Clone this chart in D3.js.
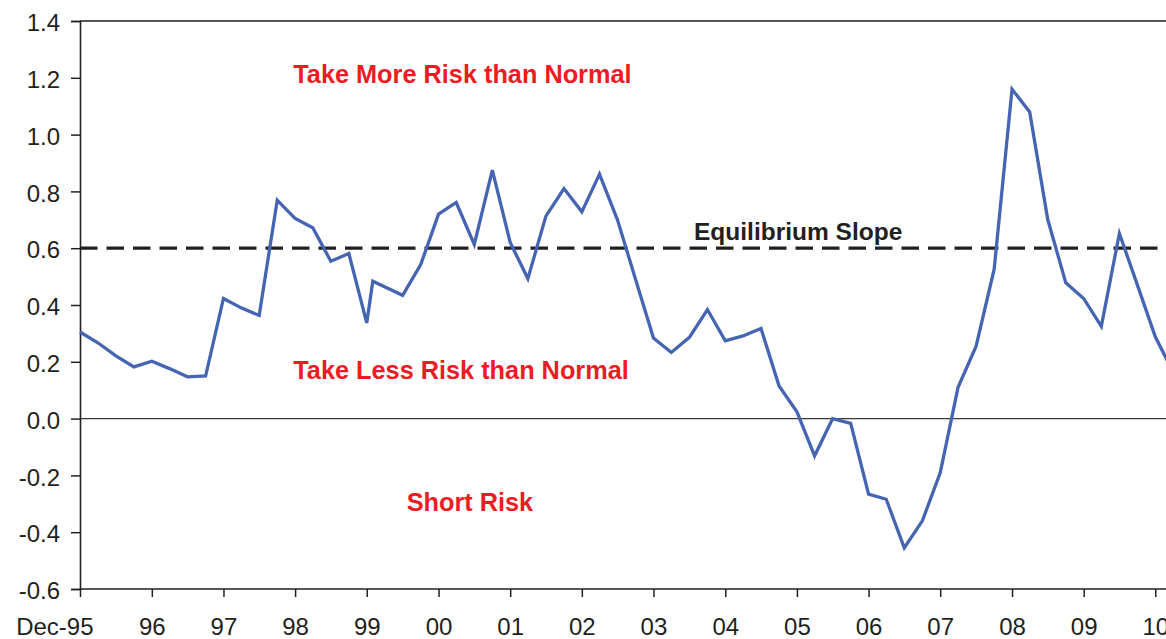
<!DOCTYPE html>
<html>
<head>
<meta charset="utf-8">
<script src="https://cdn.jsdelivr.net/npm/d3@7"></script>
<style>
  body { margin: 0; background: #fff; }
  svg { display: block; font-family: "Liberation Sans", Arial, sans-serif; }
</style>
</head>
<body>
<div class="chart"></div>
<script>
// quarterly readings (one extra point in Jan-00)
var periods = ['1995-12', '1996-03', '1996-06', '1996-09', '1996-12', '1997-03', '1997-06', '1997-09',
               '1997-12', '1998-03', '1998-06', '1998-09', '1998-12', '1999-03', '1999-06', '1999-09',
               '1999-12', '2000-01', '2000-06', '2000-09', '2000-12', '2001-03', '2001-06', '2001-09',
               '2001-12', '2002-03', '2002-06', '2002-09', '2002-12', '2003-03', '2003-06', '2003-09',
               '2003-12', '2004-03', '2004-06', '2004-09', '2004-12', '2005-03', '2005-06', '2005-09',
               '2005-12', '2006-03', '2006-06', '2006-09', '2006-12', '2007-03', '2007-06', '2007-09',
               '2007-12', '2008-03', '2008-06', '2008-09', '2008-12', '2009-03', '2009-06', '2009-09',
               '2009-12', '2010-03', '2010-06', '2010-09', '2010-12', '2011-03'];
var slope = [0.305, 0.267, 0.221, 0.182, 0.202, 0.176, 0.147, 0.150,
             0.423, 0.390, 0.363, 0.769, 0.705, 0.672, 0.554, 0.581,
             0.337, 0.484, 0.434, 0.542, 0.720, 0.761, 0.613, 0.875,
             0.620, 0.493, 0.713, 0.810, 0.728, 0.861, 0.699, 0.490,
             0.284, 0.233, 0.286, 0.384, 0.274, 0.291, 0.317, 0.115,
             0.024, -0.131, 0.000, -0.017, -0.266, -0.284, -0.455, -0.360,
             -0.191, 0.110, 0.255, 0.526, 1.160, 1.080, 0.701, 0.478,
             0.423, 0.325, 0.652, 0.470, 0.288, 0.165];

var equilibrium = 0.6;

var tickPeriods = ['1995-12', '1996-12', '1997-12', '1998-12', '1999-12', '2000-12', '2001-12', '2002-12',
                   '2003-12', '2004-12', '2005-12', '2006-12', '2007-12', '2008-12', '2009-12', '2010-12'];
var tickLabels = ['Dec-95', '96', '97', '98', '99', '00', '01', '02',
                  '03', '04', '05', '06', '07', '08', '09', '10'];
var yTicks = [-0.6, -0.4, -0.2, 0.0, 0.2, 0.4, 0.6, 0.8, 1.0, 1.2, 1.4];

// zone labels: text, period it starts at, value of its baseline
var zoneText = ['Take More Risk than Normal', 'Take Less Risk than Normal', 'Short Risk'];
var zonePeriod = ['1998-09', '1998-09', '2000-04'];
var zoneValue = [1.182, 0.139, -0.326];

const width = 1166, height = 639;
var margin = {top: 21, left: 80, bottom: 50};
const ink = '#231f20';
const red = '#ed1c24';

var parse = d3.timeParse('%Y-%m');
var data = periods.map((p, i) => ({date: parse(p), value: slope[i]}));

var svg = d3.select('.chart')
            .append('svg')
            .attr('width', width)
            .attr('height', height);

var x = d3.scaleTime()
          .domain([parse('1995-12'), parse('2010-12')])
          .range([margin.left, 1155.3]);

var y = d3.scaleLinear()
          .domain([-0.6, 1.4])
          .range([589, margin.top]);

// frame top + zero line
svg.append('line')
   .attr('x1', margin.left).attr('x2', width)
   .attr('y1', y(1.4)).attr('y2', y(1.4))
   .attr('stroke', ink).attr('stroke-width', 1.5);

svg.append('line')
   .attr('x1', margin.left).attr('x2', width)
   .attr('y1', y(0)).attr('y2', y(0))
   .attr('stroke', '#3a3a3a').attr('stroke-width', 1.3);

// equilibrium dashed line
svg.append('line')
   .attr('x1', margin.left).attr('x2', width)
   .attr('y1', y(equilibrium)).attr('y2', y(equilibrium))
   .attr('stroke', ink)
   .attr('stroke-width', 3.2)
   .attr('stroke-dasharray', '17.5,9');

// axes
var yAxis = svg.append('g')
   .attr('transform', `translate(${margin.left},0)`)
   .call(d3.axisLeft(y).tickValues(yTicks).tickSize(9).tickPadding(11)
           .tickFormat(d => d.toFixed(1)));

var xAxis = svg.append('g')
   .attr('transform', `translate(0,${y(-0.6)})`)
   .call(d3.axisBottom(x).tickValues(tickPeriods.map(parse)).tickSize(8).tickPadding(21)
           .tickFormat((d, i) => tickLabels[i]));

xAxis.select('.domain').attr('d', `M${margin.left},0H${width}`);

[yAxis, xAxis].forEach(g => {
    g.select('.domain').attr('stroke', ink).attr('stroke-width', 1.6);
    g.selectAll('.tick line').attr('stroke', ink).attr('stroke-width', 1.5);
    g.selectAll('.tick text')
     .style('font-size', '24px')
     .style('font-family', '"Liberation Sans", Arial, sans-serif')
     .attr('fill', ink);
});
yAxis.selectAll('.tick text').attr('dy', '0.40em');
xAxis.selectAll('.tick text').filter((d, i) => i === 0)
     .attr('text-anchor', 'end').attr('x', 13);

// series
var line = d3.line()
             .x(d => x(d.date))
             .y(d => y(d.value));

svg.append('path')
   .datum(data)
   .attr('d', line)
   .attr('fill', 'none')
   .attr('stroke', '#4565b3')
   .attr('stroke-width', 3.3)
   .attr('stroke-linejoin', 'miter');

// zone labels
svg.selectAll('.zone')
   .data(zoneText)
   .enter()
   .append('text')
   .attr('class', 'zone')
   .attr('x', (d, i) => x(parse(zonePeriod[i])) + 16)
   .attr('y', (d, i) => y(zoneValue[i]))
   .text(d => d)
   .style('font-size', '25.3px')
   .style('font-weight', 'bold')
   .attr('fill', red);

svg.append('text')
   .attr('x', 694)
   .attr('y', y(equilibrium) - 8)
   .text('Equilibrium Slope')
   .style('font-size', '24.5px')
   .style('font-weight', 'bold')
   .attr('fill', ink);
</script>
</body>
</html>
